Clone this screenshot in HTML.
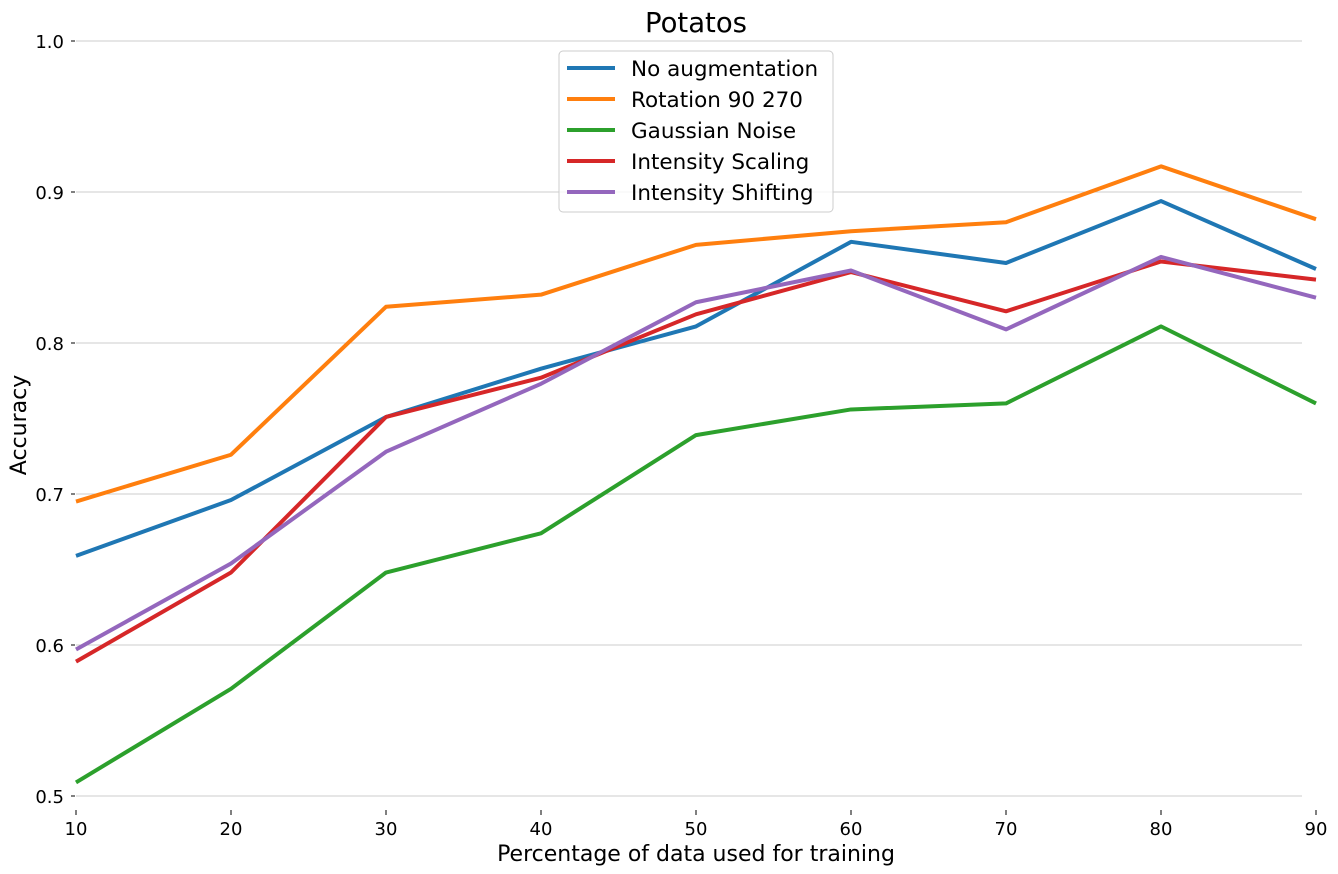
<!DOCTYPE html>
<html><head><meta charset="utf-8"><style>
html,body{margin:0;padding:0;background:#fff;}
svg{display:block;font-family:"DejaVu Sans","Liberation Sans",sans-serif;}
</style></head><body>
<svg id="chart" width="1338" height="874" viewBox="0 0 1338 874" xmlns="http://www.w3.org/2000/svg">
<text x="696" y="32" font-size="27.5" text-anchor="middle" fill="#000">Potatos</text>
<g id="grid"></g>
<g id="yticks"></g>
<g id="xticks"></g>
<g id="series"></g>
<text x="26" y="425" font-size="22" text-anchor="middle" transform="rotate(-90 26 425)">Accuracy</text>
<text x="696" y="861" font-size="22" text-anchor="middle">Percentage of data used for training</text>
<g id="legend">
<rect x="559" y="51" width="274" height="161" rx="4" fill="#fff" fill-opacity="0.8" stroke="#ccc"/>
</g>
</svg>
<script>
const xValues=[10,20,30,40,50,60,70,80,90];
const yTicks=[0.5,0.6,0.7,0.8,0.9,1.0];
const xTicks=[10,20,30,40,50,60,70,80,90];
const seriesNames=["No augmentation","Rotation 90 270","Gaussian Noise","Intensity Scaling","Intensity Shifting"];
const noAug=[0.659,0.696,0.751,0.783,0.811,0.867,0.853,0.894,0.849];
const rotation=[0.695,0.726,0.824,0.832,0.865,0.874,0.880,0.917,0.882];
const gaussian=[0.509,0.571,0.648,0.674,0.739,0.756,0.760,0.811,0.760];
const scaling=[0.589,0.648,0.751,0.777,0.819,0.847,0.821,0.854,0.842];
const shifting=[0.597,0.654,0.728,0.773,0.827,0.848,0.809,0.857,0.830];
const colors=["#1f77b4","#ff7f0e","#2ca02c","#d62728","#9467bd"];
const allSeries=[noAug,rotation,gaussian,scaling,shifting];
const NS="http://www.w3.org/2000/svg";
function xs(v){return 76+(v-10)*15.5;}
function ys(v){return 796-(v-0.5)*1510;}
function mk(tag,attrs,parent){const e=document.createElementNS(NS,tag);for(const k in attrs)e.setAttribute(k,attrs[k]);parent.appendChild(e);return e;}
const grid=document.getElementById('grid'),yt=document.getElementById('yticks'),xt=document.getElementById('xticks'),sg=document.getElementById('series'),lg=document.getElementById('legend');
yTicks.forEach(t=>{
 const l=mk('line',{x1:76,x2:1302,y1:ys(t),y2:ys(t),stroke:'#cccccc','stroke-width':1},grid);
 
 
 const tk=mk('line',{x1:71,x2:75,y1:ys(t),y2:ys(t),stroke:'#000','stroke-width':1},yt);
 
 
 const tx=mk('text',{x:64,y:ys(t)+7,'font-size':18,'text-anchor':'end'},yt);
 tx.textContent=t.toFixed(1);
 
 
});
xTicks.forEach(t=>{
 const tk=mk('line',{x1:xs(t),x2:xs(t),y1:810,y2:815,stroke:'#000','stroke-width':1},xt);
 
 
 const tx=mk('text',{x:xs(t),y:835,'font-size':18,'text-anchor':'middle'},xt);
 tx.textContent=t;
 
 
});
allSeries.forEach((s,i)=>{
 const p=mk('polyline',{points:s.map((v,j)=>xs(xValues[j])+','+ys(v)).join(' '),fill:'none',stroke:colors[i],'stroke-width':4,'stroke-linejoin':'round'},sg);
 
 
 const y=68+i*31;
 const ll=mk('line',{x1:567,x2:615,y1:y,y2:y,stroke:colors[i],'stroke-width':4},lg);
 
 
 const lt=mk('text',{x:631,y:y+8,'font-size':21.5},lg);
 lt.textContent=seriesNames[i];
 
 
});
</script>
</body></html>
